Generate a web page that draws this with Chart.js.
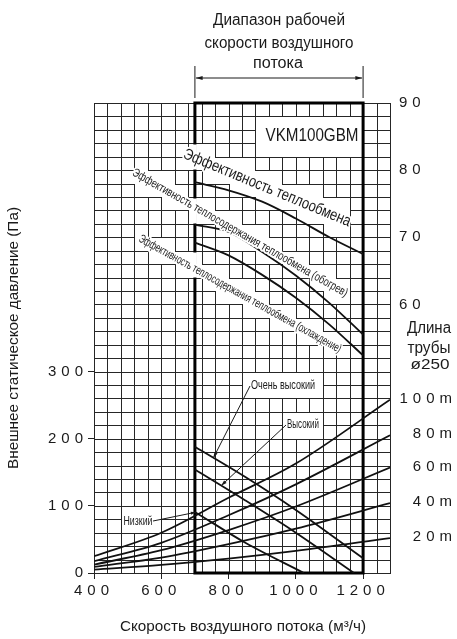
<!DOCTYPE html>
<html>
<head>
<meta charset="utf-8">
<script src="https://cdn.jsdelivr.net/npm/chart.js@4.4.0/dist/chart.umd.min.js"></script>
<style>
html, body { margin: 0; padding: 0; background: #fff; }
#wrap { width: 457px; height: 639px; position: relative; }
</style>
</head>
<body>
<div id="wrap"><canvas id="graphCanvas"></canvas></div>
<script>
// ---------------- DATA ----------------
// efficiency curves (%), right axis
const effFlow = [700, 800, 900, 1000, 1100, 1200];
const effExchange = [78.2, 77.0, 75.3, 72.8, 70.0, 67.5];
const effHeating = [71.9, 70.8, 67.8, 64.3, 60.2, 55.5];
const effCooling = [69.2, 67.3, 64.4, 61.0, 57.0, 52.4];

// duct resistance (Pa) by pipe length
const pipeFlow = [400, 600, 800, 1000, 1280];
const pipe20 = [5, 12, 21.5, 33, 52];
const pipe40 = [9, 23, 43, 66, 104];
const pipe60 = [12.5, 34, 64, 99, 157];
const pipe80 = [17.5, 45, 86, 132, 205];
const pipe100 = [25, 60, 112, 163, 258];
const pipeNames = ['20m', '40m', '60m', '80m', '100m'];

// fan curves (Pa)
const veryHighFlow = [700, 850, 1000, 1200];
const veryHigh = [188, 143, 94, 22];
const highFlow = [700, 850, 1000, 1173];
const high = [154, 108, 60, 0];
const lowFlow = [700, 850, 1024];
const low = [91, 45, 0];

// tick labels
const xTickLabels = [400, 600, 800, 1000, 1200];
const yTickLabels = [0, 100, 200, 300];
const effTickLabels = [60, 70, 80, 90];

const FONT = 'Liberation Sans';
const INK = '#1a1a1a';
const GRID = '#262626';

const pts = (xs, ys) => xs.map((x, i) => ({ x: x, y: ys[i] }));

function valAt(xs, ys, x) {
    for (let i = 0; i < xs.length - 1; i++) {
        if (x >= xs[i] && x <= xs[i + 1]) {
            return ys[i] + (ys[i + 1] - ys[i]) * (x - xs[i]) / (xs[i + 1] - xs[i]);
        }
    }
    return ys[ys.length - 1];
}

// text squeezed to a given width (narrow look of the original)
function fitText(ctx, str, x, y, size, width, angle, halo) {
    ctx.save();
    ctx.font = size + 'px "' + FONT + '"';
    const w = ctx.measureText(str).width;
    ctx.translate(x, y);
    if (angle) ctx.rotate(angle * Math.PI / 180);
    ctx.scale(width / w, 1);
    ctx.textAlign = 'center';
    ctx.textBaseline = 'middle';
    if (halo) {
        ctx.strokeStyle = '#fff';
        ctx.lineWidth = 4;
        ctx.lineJoin = 'round';
        ctx.strokeText(str, 0, 0);
    }
    ctx.fillStyle = INK;
    ctx.fillText(str, 0, 0);
    ctx.restore();
}

function arrow(ctx, x0, y0, x1, y1, head) {
    ctx.beginPath();
    ctx.moveTo(x0, y0);
    ctx.lineTo(x1, y1);
    ctx.stroke();
    const a = Math.atan2(y1 - y0, x1 - x0);
    ctx.beginPath();
    ctx.moveTo(x1, y1);
    ctx.lineTo(x1 - head * Math.cos(a - 0.3), y1 - head * Math.sin(a - 0.3));
    ctx.lineTo(x1 - head * Math.cos(a + 0.3), y1 - head * Math.sin(a + 0.3));
    ctx.closePath();
    ctx.fill();
}

// white areas behind the labels (staircase on grid cells)
const bands = [
    { cx: 267, cy: 188, w: 180, h: 14, a: 22.5, pad: 10 },
    { cx: 240, cy: 233, w: 246, h: 10, a: 29.8, pad: 8 },
    { cx: 240, cy: 294, w: 230, h: 10, a: 29.1, pad: 8 }
];
const boxes = [
    { x0: 880, x1: 1200, y0: 620, y1: 680 },
    { x0: 840, x1: 1080, y0: 260, y1: 300 },
    { x0: 960, x1: 1080, y0: 200, y1: 240 },
    { x0: 480, x1: 600, y0: 60, y1: 100 }
];

function crisp(p) { return Math.round(p) + 0.5; }

// grid drawn edge by edge, leaving out edges inside the white areas
function drawMaskedGrid(chart) {
    const ctx = chart.ctx, xs = chart.scales.x, ys = chart.scales.y;
    const colV = [], rowV = [];
    for (let v = 400; v <= 1280; v += 40) colV.push(v);
    for (let v = 700; v >= 0; v -= 20) rowV.push(v);
    const cols = colV.map(v => crisp(xs.getPixelForValue(v)));
    const rows = rowV.map(v => crisp(ys.getPixelForValue(v)));
    const nC = cols.length - 1, nR = rows.length - 1;
    const m = [];
    for (let i = 0; i < nC; i++) {
        m.push([]);
        for (let j = 0; j < nR; j++) {
            const cx = (cols[i] + cols[i + 1]) / 2, cy = (rows[j] + rows[j + 1]) / 2;
            let hit = bands.some(bd => {
                const a = bd.a * Math.PI / 180;
                const dx = cx - bd.cx, dy = cy - bd.cy;
                const u = dx * Math.cos(a) + dy * Math.sin(a);
                const n = -dx * Math.sin(a) + dy * Math.cos(a);
                return Math.abs(u) <= bd.w / 2 + 2 && Math.abs(n) <= bd.h / 2 + bd.pad;
            });
            const xv = (colV[i] + colV[i + 1]) / 2, yv = (rowV[j] + rowV[j + 1]) / 2;
            if (boxes.some(bx => xv > bx.x0 && xv < bx.x1 && yv > bx.y0 && yv < bx.y1)) hit = true;
            m[i].push(hit);
        }
    }
    const masked = (i, j) => i >= 0 && i < nC && j >= 0 && j < nR && m[i][j];
    ctx.save();
    ctx.strokeStyle = GRID;
    ctx.lineWidth = 1;
    ctx.beginPath();
    for (let k = 0; k <= nC; k++) {
        for (let j = 0; j < nR; j++) {
            if (masked(k - 1, j) && masked(k, j)) continue;
            ctx.moveTo(cols[k], rows[j] - 0.5);
            ctx.lineTo(cols[k], rows[j + 1] + 0.5);
        }
    }
    for (let k = 0; k <= nR; k++) {
        for (let i = 0; i < nC; i++) {
            if (masked(i, k - 1) && masked(i, k)) continue;
            ctx.moveTo(cols[i] - 0.5, rows[k]);
            ctx.lineTo(cols[i + 1] + 0.5, rows[k]);
        }
    }
    ctx.stroke();
    ctx.restore();
    return { masked: masked, cols: cols, rows: rows };
}

const overlay = {
    id: 'overlay',
    beforeDraw(chart) {
        chart.ctx.letterSpacing = '5px';
    },
    beforeDatasetsDraw(chart) {
        const ctx = chart.ctx;
        ctx.letterSpacing = '0px';
        const xs = chart.scales.x, ys = chart.scales.y;
        const g = drawMaskedGrid(chart);
        const xa = xs.getPixelForValue(700), xb = xs.getPixelForValue(1200);
        const top = ys.getPixelForValue(700), bot = ys.getPixelForValue(0);
        ctx.save();
        ctx.strokeStyle = '#000';
        ctx.lineWidth = 3;
        ctx.strokeRect(xa, top, xb - xa, bot - top);
        // the 700 frame line is broken where it runs through a white area
        ctx.fillStyle = '#fff';
        const ci = g.cols.findIndex(c => c > xa) - 1;
        for (let j = 0; j < g.rows.length - 1; j++) {
            if (!g.masked(ci, j)) continue;
            const y0 = g.rows[j] + (g.masked(ci, j - 1) ? -0.5 : 1);
            const y1 = g.rows[j + 1] + (g.masked(ci, j + 1) ? 0.5 : -1);
            ctx.fillRect(xa - 2, y0, 4, y1 - y0);
        }
        ctx.restore();
    },
    afterDatasetsDraw(chart) {
        const ctx = chart.ctx;
        const xs = chart.scales.x, ys = chart.scales.y;
        const px = v => xs.getPixelForValue(v), py = v => ys.getPixelForValue(v);
        ctx.save();
        ctx.letterSpacing = '0px';

        // operating range marker
        ctx.strokeStyle = INK;
        ctx.fillStyle = INK;
        ctx.lineWidth = 1;
        const xa = px(700), xb = px(1200);
        ctx.beginPath();
        ctx.moveTo(xa, 66); ctx.lineTo(xa, 98);
        ctx.moveTo(xb, 66); ctx.lineTo(xb, 98);
        ctx.stroke();
        arrow(ctx, (xa + xb) / 2, 78, xa + 1, 78, 7);
        arrow(ctx, (xa + xb) / 2, 78, xb - 1, 78, 7);

        fitText(ctx, 'Диапазон рабочей', 279, 21, 16, 132);
        fitText(ctx, 'скорости воздушного', 279, 44, 16, 149);
        fitText(ctx, 'потока', 278, 64, 16, 50);

        fitText(ctx, 'VKM100GBM', 312, 136, 18, 93);
        fitText(ctx, 'Эффективность теплообмена', 267, 188, 16, 180, 22.5, true);
        fitText(ctx, 'Эффективность теплосодержания теплообмена (обогрев)', 240, 233, 12, 246, 29.8, true);
        fitText(ctx, 'Эффективность теплосодержания теплообмена (охлаждение)', 240, 294, 12, 230, 29.1, true);

        fitText(ctx, 'Длина', 429, 329, 16, 44);
        fitText(ctx, 'трубы', 429, 349, 16, 43);
        fitText(ctx, 'ø250', 430, 365, 15, 39);

        // pipe length labels at the right end of each line
        const pipeEnds = [pipe20, pipe40, pipe60, pipe80, pipe100];
        ctx.font = '15px "' + FONT + '"';
        ctx.letterSpacing = '5px';
        ctx.textAlign = 'right';
        ctx.textBaseline = 'middle';
        ctx.fillStyle = INK;
        pipeNames.forEach((name, i) => {
            const v = pipeEnds[i][pipeEnds[i].length - 1];
            ctx.fillText(name, 457, py(v) - 1);
        });
        ctx.letterSpacing = '0px';

        // fan speed pointers
        ctx.lineWidth = 1;
        fitText(ctx, 'Очень высокий', 283, 386, 12, 64);
        const tv = { x: px(755), y: py(valAt(veryHighFlow, veryHigh, 755)) };
        arrow(ctx, 250, 386, tv.x, tv.y, 6);
        fitText(ctx, 'Высокий', 303, 425, 12, 32);
        const th = { x: px(778), y: py(valAt(highFlow, high, 778)) };
        arrow(ctx, 286, 425, th.x, th.y, 6);
        fitText(ctx, 'Низкий', 138, 522, 12, 29);
        const tl = { x: px(702), y: py(valAt(lowFlow, low, 702)) };
        arrow(ctx, 153, 521, tl.x, tl.y, 5);

        // axis titles
        fitText(ctx, 'Внешнее статическое давление (Па)', 14, 338, 14, 262, -90);
        fitText(ctx, 'Скорость воздушного потока (м³/ч)', 243, 627, 15, 246);
        ctx.restore();
    }
};

const line = (data, axis, tension) => ({
    data: data,
    yAxisID: axis,
    borderColor: '#111',
    borderWidth: 1.8,
    fill: false,
    pointRadius: 0,
    tension: tension,
    cubicInterpolationMode: tension ? 'monotone' : 'default'
});

// SETUP BLOCK
const data = {
    datasets: [
        line(pts(effFlow, effExchange), 'y2', 0.4),
        line(pts(effFlow, effHeating), 'y2', 0.4),
        line(pts(effFlow, effCooling), 'y2', 0.4),
        line(pts(pipeFlow, pipe20), 'y', 0.4),
        line(pts(pipeFlow, pipe40), 'y', 0.4),
        line(pts(pipeFlow, pipe60), 'y', 0.4),
        line(pts(pipeFlow, pipe80), 'y', 0.4),
        line(pts(pipeFlow, pipe100), 'y', 0.4),
        line(pts(veryHighFlow, veryHigh), 'y', 0.4),
        line(pts(highFlow, high), 'y', 0.4),
        line(pts(lowFlow, low), 'y', 0.4)
    ]
};

const tickFont = { family: FONT, size: 15 };
const near = (list, v) => list.some(t => Math.abs(t - v) < 1e-6);

// CONFIG BLOCK
const config = {
    type: 'line',
    data,
    options: {
        responsive: true,
        maintainAspectRatio: false,
        animation: false,
        events: [],
        layout: { padding: { top: 103, left: 0, right: 0, bottom: 0 } },
        plugins: {
            legend: { display: false },
            tooltip: { enabled: false }
        },
        scales: {
            x: {
                type: 'linear',
                min: 400,
                max: 1280,
                afterFit: s => { s.height = 66; },
                border: { display: false },
                grid: {
                    drawOnChartArea: false,
                    lineWidth: 1,
                    tickLength: 6,
                    tickColor: c => near(xTickLabels, c.tick.value) ? '#222' : 'rgba(0,0,0,0)'
                },
                ticks: {
                    stepSize: 40,
                    autoSkip: false,
                    maxRotation: 0,
                    padding: 3,
                    color: INK,
                    font: tickFont,
                    callback: v => near(xTickLabels, v) ? String(v) : ''
                }
            },
            y: {
                min: 0,
                max: 700,
                afterFit: s => { s.width = 94; },
                border: { display: false },
                grid: {
                    drawOnChartArea: false,
                    lineWidth: 1,
                    tickLength: 6,
                    tickColor: c => near(yTickLabels, c.tick.value) ? '#222' : 'rgba(0,0,0,0)'
                },
                ticks: {
                    stepSize: 20,
                    maxTicksLimit: 100,
                    autoSkip: false,
                    padding: 0,
                    color: INK,
                    font: tickFont,
                    callback: v => near(yTickLabels, v) ? String(v) : ''
                }
            },
            y2: {
                position: 'right',
                min: 20,
                max: 90,
                afterFit: s => { s.width = 67; },
                border: { display: false },
                grid: { display: false, drawOnChartArea: false, drawTicks: false },
                ticks: {
                    stepSize: 2,
                    maxTicksLimit: 100,
                    autoSkip: false,
                    padding: 9,
                    color: INK,
                    font: tickFont,
                    callback: v => near(effTickLabels, v) ? String(v) : ''
                }
            }
        }
    },
    plugins: [overlay]
};

// RENDER BLOCK
const graphCanvas = new Chart(
    document.getElementById('graphCanvas').getContext('2d'),
    config
);
</script>
</body>
</html>
